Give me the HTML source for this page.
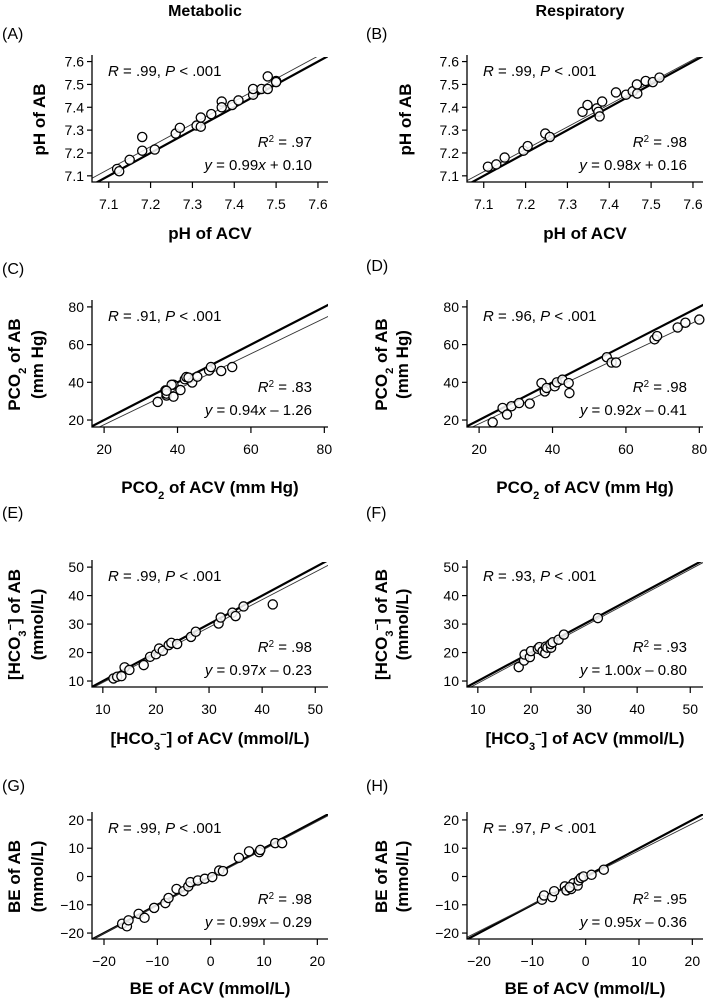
<!DOCTYPE html>
<html><head><meta charset="utf-8"><style>
html,body{margin:0;background:#fff;overflow:hidden;width:709px;height:1002px}
svg{display:block;overflow:hidden;font-family:"Liberation Sans",Arial,sans-serif}
</style></head><body>
<svg id="fig" width="709" height="1002" viewBox="0 0 709 1002" xmlns="http://www.w3.org/2000/svg">
<text x="205" y="16" font-size="16" font-weight="bold" text-anchor="middle">Metabolic</text>
<text x="580" y="16" font-size="16" font-weight="bold" text-anchor="middle">Respiratory</text>
</svg>
<script>
// ---- data ----
const phMetX=[7.12,7.125,7.15,7.18,7.18,7.21,7.26,7.27,7.31,7.32,7.32,7.345,7.37,7.37,7.395,7.41,7.445,7.445,7.465,7.48,7.48,7.50,7.50];
const phMetY=[7.13,7.12,7.17,7.27,7.21,7.215,7.285,7.31,7.32,7.315,7.355,7.37,7.425,7.40,7.41,7.43,7.455,7.48,7.48,7.535,7.48,7.515,7.51];
const phResX=[7.11,7.13,7.15,7.195,7.205,7.247,7.258,7.336,7.348,7.37,7.374,7.377,7.383,7.416,7.44,7.456,7.466,7.467,7.487,7.504,7.52];
const phResY=[7.14,7.15,7.18,7.21,7.23,7.285,7.27,7.38,7.41,7.395,7.38,7.36,7.425,7.465,7.455,7.47,7.50,7.46,7.515,7.51,7.53];
const pco2MetX=[34.6,36.7,37,37,38.9,38.9,40.8,42,42.4,44,45.4,48.6,49.1,51.9,54.9,43,38.4,37];
const pco2MetY=[29.6,35.7,33,34,32.4,38.7,35.9,41.6,42.8,39.9,43,46.3,48.1,46,48.1,42.5,38.7,35.5];
const pco2ResX=[23.7,26.4,27.6,28.8,30.9,33.8,37,37.9,38.4,40.6,41.2,42.7,44.4,44.6,54.8,56.1,57.3,67.8,68.5,74.1,76.2,80];
const pco2ResY=[18.8,26.4,22.9,27.3,29,28.7,39.6,35.2,37,37.9,40.0,41.4,39.6,34.3,53.3,50.5,50.5,62.8,64.5,69.1,71.6,73.3];
const hco3MetX=[12,12.7,13.5,14.1,15,17.7,18.9,20,20.6,21.3,22.4,22.9,24,26.6,27.5,31.8,32.2,34.4,35,36.5,42];
const hco3MetY=[10.9,11.5,11.7,14.8,13.9,15.6,18.5,19.4,21.4,20.6,22.6,23.4,23,25.5,27.3,30.2,32.3,34,32.8,36.2,36.9];
const hco3ResX=[17.7,18.7,18.8,19.8,20,21.3,21.6,22.2,22.7,22.8,23.1,23.8,23.7,24.1,25.2,26.2,32.6];
const hco3ResY=[14.9,17.2,19.3,18.4,20.5,21.3,21.9,20.5,19.8,22.1,21.7,21.7,23,23.6,24.5,26.3,32.1];
const beMetX=[-16.6,-15.7,-15.4,-13.5,-12.4,-10.6,-8.5,-7.9,-6.4,-5.1,-4.2,-3.8,-2.4,-1.1,0.3,1.6,2.3,5.3,7.2,9.1,9.3,12.1,13.4];
const beMetY=[-16.7,-17.6,-15.5,-13.2,-14.6,-11.1,-9.4,-7.6,-4.4,-5.2,-3.5,-2,-1.4,-0.8,-0.2,2.1,1.9,6.6,8.9,8.6,9.4,11.8,11.8];
const beResX=[-8.2,-7.8,-6.3,-5.9,-3.9,-3.6,-2.7,-2.3,-1.5,-1.3,-0.9,-0.4,1.1,3.4,-3];
const beResY=[-8.2,-6.7,-7.3,-5.2,-3.5,-4.9,-4.4,-2.4,-3.2,-1.4,-0.5,0,0.6,2.4,-3.8];
const slopes=[0.99,0.98,0.94,0.92,0.97,1.00,0.99,0.95];
const intercepts=[0.10,0.16,-1.26,-0.41,-0.23,-0.80,-0.29,-0.36];
const rVals=[".99",".99",".91",".96",".99",".93",".99",".97"];
const r2Vals=[".97",".98",".83",".98",".98",".93",".98",".95"];
const eqTexts=["0.99|+ 0.10","0.98|+ 0.16","0.94|– 1.26","0.92|– 0.41","0.97|– 0.23","1.00|– 0.80","0.99|– 0.29","0.95|– 0.36"];
const phTicks=[7.1,7.2,7.3,7.4,7.5,7.6];
const pco2Ticks=[20,40,60,80];
const hco3Ticks=[10,20,30,40,50];
const beTicks=[-20,-10,0,10,20];

const NS="http://www.w3.org/2000/svg";
const svg=document.getElementById('fig');
function mk(tag,attrs,parent){const e=document.createElementNS(NS,tag);for(const k in attrs)e.setAttribute(k,attrs[k]);(parent||svg).appendChild(e);return e;}
function richText(parent,x,y,parts,attrs){
  const t=mk('text',Object.assign({x:x,y:y},attrs),parent);
  parts.forEach(p=>{const s=mk('tspan',{},t);s.textContent=p[0];
    if(p[1]==='i')s.setAttribute('font-style','italic');
    if(p[1]==='sup'){s.setAttribute('font-size','0.65em');s.setAttribute('baseline-shift','super');}
    if(p[1]==='sub'){s.setAttribute('font-size','0.65em');s.setAttribute('baseline-shift','sub');}
  });
  return t;
}
const W=236,H=125;
const panels=[
 {id:'A',L:92,B:182,xd:[7.06,7.624],yd:[7.073,7.62],xs:phMetX,ys:phMetY,ticks:phTicks,fmt:v=>v.toFixed(1),kind:'ph'},
 {id:'B',L:467,B:182,xd:[7.06,7.624],yd:[7.073,7.62],xs:phResX,ys:phResY,ticks:phTicks,fmt:v=>v.toFixed(1),kind:'ph'},
 {id:'C',L:92,B:427,xd:[16.7,81],yd:[16.3,82.6],xs:pco2MetX,ys:pco2MetY,ticks:pco2Ticks,fmt:v=>''+v,kind:'pco2'},
 {id:'D',L:467,B:427,xd:[16.7,81],yd:[16.3,82.6],xs:pco2ResX,ys:pco2ResY,ticks:pco2Ticks,fmt:v=>''+v,kind:'pco2'},
 {id:'E',L:92,B:687,xd:[7.96,52.4],yd:[7.9,51.8],xs:hco3MetX,ys:hco3MetY,ticks:hco3Ticks,fmt:v=>''+v,kind:'hco3'},
 {id:'F',L:467,B:687,xd:[7.96,52.4],yd:[7.9,51.8],xs:hco3ResX,ys:hco3ResY,ticks:hco3Ticks,fmt:v=>''+v,kind:'hco3'},
 {id:'G',L:92,B:939,xd:[-22.25,22],yd:[-22.1,22.1],xs:beMetX,ys:beMetY,ticks:beTicks,fmt:v=>(v<0?'−'+(-v):''+v),kind:'be'},
 {id:'H',L:467,B:939,xd:[-22.25,22],yd:[-22.1,22.1],xs:beResX,ys:beResY,ticks:beTicks,fmt:v=>(v<0?'−'+(-v):''+v),kind:'be'}
];
const letterY={A:39,B:39,C:274,D:271,E:518,F:518,G:791,H:791};
panels.forEach((p,i)=>{
  const g=mk('g',{});
  
  
  const isLeft=p.L<300;
  const sx=v=>p.L+(v-p.xd[0])/(p.xd[1]-p.xd[0])*W;
  const sy=v=>p.B-(v-p.yd[0])/(p.yd[1]-p.yd[0])*H;
  const T=p.B-H;
  const lab=mk('text',{x:isLeft?2:366,y:letterY[p.id],'font-size':16},g);
  lab.textContent='('+p.id+')';
  
  
  const cid='clip'+p.id;
  const cp=mk('clipPath',{id:cid},g);mk('rect',{x:p.L,y:T,width:W,height:H},cp);
  const lines=mk('g',{'clip-path':'url(#'+cid+')'},g);
  const x0=p.xd[0]-5,x1=p.xd[1]+5;
  const idl=mk('line',{x1:sx(x0),y1:sy(x0),x2:sx(x1),y2:sy(x1),stroke:'#000','stroke-width':2.2},lines);
  
  
  const rl=mk('line',{x1:sx(x0),y1:sy(slopes[i]*x0+intercepts[i]),x2:sx(x1),y2:sy(slopes[i]*x1+intercepts[i]),stroke:'#333','stroke-width':0.9},lines);
  
  
  p.xs.forEach((xv,j)=>{
    const c=mk('circle',{cx:sx(xv),cy:sy(p.ys[j]),r:4.6,fill:'#fff','fill-opacity':0.85,stroke:'#000','stroke-width':1.3},g);
    
    
  });
  const ax=mk('path',{d:`M${p.L} ${T-2}V${p.B}H${p.L+W}`,fill:'none',stroke:'#000','stroke-width':1.3},g);
  
  
  p.ticks.forEach(t=>{
    mk('line',{x1:p.L,x2:p.L-5,y1:sy(t),y2:sy(t),stroke:'#000','stroke-width':1.2},g);
    mk('line',{y1:p.B,y2:p.B+6,x1:sx(t),x2:sx(t),stroke:'#000','stroke-width':1.2},g);
    const yl=mk('text',{x:p.L-8,y:sy(t)+5,'font-size':14,'text-anchor':'end'},g);yl.textContent=p.fmt(t);
    
    
    const xl=mk('text',{x:sx(t),y:p.B+27,'font-size':14,'text-anchor':'middle'},g);xl.textContent=p.fmt(t);
    
    
  });
  const st=richText(g,p.L+16,T+19,[['R','i'],[' = '+rVals[i]+', '],['P','i'],[' < .001']],{'font-size':15});
  
  
  const r2=richText(g,p.L+220,p.B-35,[['R','i'],['2','sup'],[' = '+r2Vals[i]]],{'font-size':15,'text-anchor':'end'});
  
  
  const eq=eqTexts[i].split('|');
  const et=richText(g,p.L+220,p.B-12,[['y','i'],[' = '+eq[0]],['x','i'],[' '+eq[1]]],{'font-size':15,'text-anchor':'end'});
  
  
  const ty=p.B+(p.kind==='pco2'?66:(p.kind==='be'?55:57));
  let xt;
  if(p.kind==='ph')xt=[['pH of ACV']];
  else if(p.kind==='pco2')xt=[['PCO'],['2','sub'],[' of ACV (mm Hg)']];
  else if(p.kind==='hco3')xt=[['[HCO'],['3','sub'],['−','sup'],['] of ACV (mmol/L)']];
  else xt=[['BE of ACV (mmol/L)']];
  const xtt=richText(g,p.L+W/2,ty,xt,{'font-size':17,'font-weight':'bold','text-anchor':'middle'});
  
  
  const cy=T+H/2;
  function ytitle(x,parts){
    const t=richText(g,0,0,parts,{'font-size':17,'font-weight':'bold','text-anchor':'middle',transform:`translate(${x},${cy}) rotate(-90)`});
    
    
  }
  if(p.kind==='ph'){ytitle(isLeft?45:411,[['pH of AB']]);}
  else{
    const a=isLeft?20:387,b=isLeft?43:408;
    let l1;
    if(p.kind==='pco2')l1=[['PCO'],['2','sub'],[' of AB']];
    else if(p.kind==='hco3')l1=[['[HCO'],['3','sub'],['−','sup'],['] of AB']];
    else l1=[['BE of AB']];
    ytitle(a,l1);
    ytitle(b,[[p.kind==='pco2'?'(mm Hg)':'(mmol/L)']]);
  }
});
</script>
</body></html>
